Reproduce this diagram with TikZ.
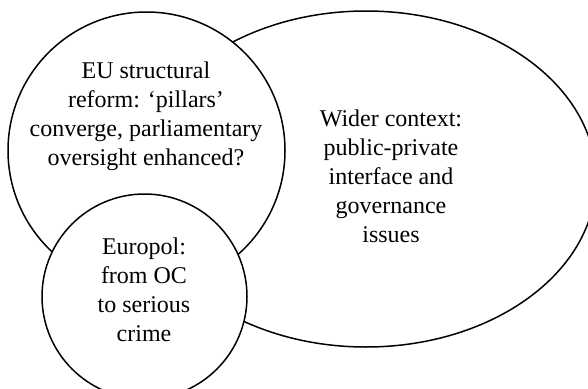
\documentclass[tikz,border=0pt]{standalone}
\usepackage{fontspec}
\setmainfont{Liberation Serif}
\begin{document}
\begin{tikzpicture}[x=1pt,y=-1pt,
  setshape/.style={draw=black,fill=white,line width=1.5pt},
  settext/.style={align=center,inner sep=0pt,font=\fontsize{24}{29}\selectfont}]
\useasboundingbox (0,0) rectangle (588,388);
\draw[setshape] (366,179) ellipse [x radius=230pt,y radius=168pt];
\draw[setshape] (146.5,150.5) circle [radius=138.5pt];
\draw[setshape] (144.5,296.5) circle [radius=102.5pt];
\node[settext] (eu) at (146,116) {EU structural\\reform: ‘pillars’\\converge, parliamentary\\oversight enhanced?};
\node[settext] (wider) at (391,176.5) {Wider context:\\public-private\\interface and\\governance\\issues};
\node[settext] (europol) at (144,290) {Europol:\\from OC\\to serious\\crime};
\end{tikzpicture}
\end{document}
